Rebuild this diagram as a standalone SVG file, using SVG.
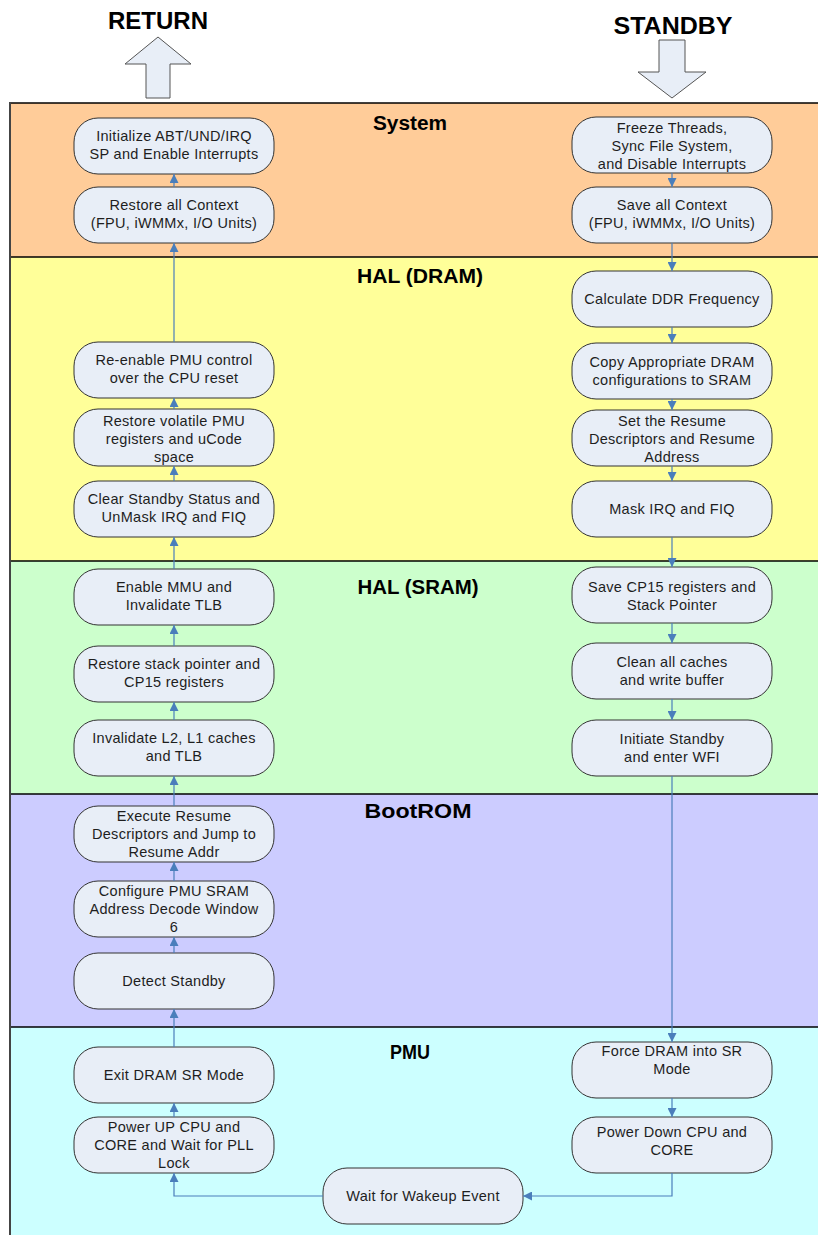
<svg xmlns="http://www.w3.org/2000/svg" width="818" height="1235" viewBox="0 0 818 1235">
  <defs>
    <marker id="arr" viewBox="0 0 10 10" refX="10" refY="5" markerWidth="9" markerHeight="9" markerUnits="userSpaceOnUse" orient="auto">
      <path d="M0,0 L10,5 L0,10 z" fill="#4A7EBB"/>
    </marker>
    <style>
      .node rect { fill: #E8EEF7; stroke: #333333; stroke-width: 1; }
      .node text { font-family: "Liberation Sans", Arial, sans-serif; font-size: 14.5px; letter-spacing: 0.3px; fill: #1e1e1e; text-anchor: middle; }
      .lane-title { font-family: "Liberation Sans", Arial, sans-serif; font-size: 20px; font-weight: bold; fill: #000; text-anchor: middle; }
      .big-label { font-family: "Liberation Sans", Arial, sans-serif; font-size: 24px; font-weight: bold; fill: #000; text-anchor: middle; }
      .conn { fill: none; stroke: #4A7EBB; stroke-width: 1.2; marker-end: url(#arr); }
      .sep { stroke: #000; stroke-width: 1.5; }
      .bigarrow { fill: #E8EEF7; stroke: #555; stroke-width: 1; }
    </style>
  </defs>

  <rect width="818" height="1235" fill="#ffffff"/>

  <!-- swimlanes -->
  <g id="lanes">
    <rect x="10" y="103" width="810" height="154" fill="#FFCC99"/>
    <rect x="10" y="257" width="810" height="304" fill="#FFFF99"/>
    <rect x="10" y="561" width="810" height="233" fill="#CCFFCC"/>
    <rect x="10" y="794" width="810" height="233" fill="#CCCCFF"/>
    <rect x="10" y="1027" width="810" height="210" fill="#CCFFFF"/>
    <line class="sep" x1="10" y1="103" x2="818" y2="103"/>
    <line class="sep" x1="10" y1="257" x2="818" y2="257"/>
    <line class="sep" x1="10" y1="561" x2="818" y2="561"/>
    <line class="sep" x1="10" y1="794" x2="818" y2="794"/>
    <line class="sep" x1="10" y1="1027" x2="818" y2="1027"/>
    <line x1="10" y1="102" x2="10" y2="1235" stroke="#444" stroke-width="2"/>
    <text class="lane-title" x="410" y="130" textLength="74" lengthAdjust="spacingAndGlyphs">System</text>
    <text class="lane-title" x="420" y="283" textLength="126" lengthAdjust="spacingAndGlyphs">HAL (DRAM)</text>
    <text class="lane-title" x="418" y="594" textLength="121" lengthAdjust="spacingAndGlyphs">HAL (SRAM)</text>
    <text class="lane-title" x="418" y="818" textLength="107" lengthAdjust="spacingAndGlyphs">BootROM</text>
    <text class="lane-title" x="410" y="1059" textLength="40" lengthAdjust="spacingAndGlyphs">PMU</text>
  </g>

  <!-- entry / exit arrows -->
  <g id="return">
    <text class="big-label" x="158" y="29" textLength="100" lengthAdjust="spacingAndGlyphs">RETURN</text>
    <path class="bigarrow" d="M146,98 V64 H125 L158,37 L191,64 H170 V98 z"/>
  </g>
  <g id="standby">
    <text class="big-label" x="673" y="34" textLength="119" lengthAdjust="spacingAndGlyphs">STANDBY</text>
    <path class="bigarrow" d="M659,40 H685 V72 H706 L672,98 L638,72 H659 z"/>
  </g>

  <!-- left column (resume path) -->
  <g id="n-init-abt" class="node"><rect x="74" y="118" width="200" height="56" rx="24"/>
    <text x="174" y="141">Initialize ABT/UND/IRQ</text><text x="174" y="159">SP and Enable Interrupts</text></g>
  <g id="n-restore-ctx" class="node"><rect x="74" y="187" width="200" height="56" rx="24"/>
    <text x="174" y="210">Restore all Context</text><text x="174" y="228">(FPU, iWMMx, I/O Units)</text></g>
  <g id="n-reenable-pmu" class="node"><rect x="74" y="342" width="200" height="56" rx="24"/>
    <text x="174" y="365">Re-enable PMU control</text><text x="174" y="383">over the CPU reset</text></g>
  <g id="n-restore-pmu" class="node"><rect x="74" y="409" width="200" height="57" rx="24"/>
    <text x="174" y="426">Restore volatile PMU</text><text x="174" y="444">registers and uCode</text><text x="174" y="462">space</text></g>
  <g id="n-clear-standby" class="node"><rect x="74" y="481" width="200" height="56" rx="24"/>
    <text x="174" y="504">Clear Standby Status and</text><text x="174" y="522">UnMask IRQ and FIQ</text></g>
  <g id="n-enable-mmu" class="node"><rect x="74" y="569" width="200" height="56" rx="24"/>
    <text x="174" y="592">Enable MMU and</text><text x="174" y="610">Invalidate TLB</text></g>
  <g id="n-restore-sp" class="node"><rect x="74" y="646" width="200" height="56" rx="24"/>
    <text x="174" y="669">Restore stack pointer and</text><text x="174" y="687">CP15 registers</text></g>
  <g id="n-invalidate" class="node"><rect x="74" y="720" width="200" height="56" rx="24"/>
    <text x="174" y="743">Invalidate L2, L1 caches</text><text x="174" y="761">and TLB</text></g>
  <g id="n-exec-resume" class="node"><rect x="74" y="806" width="200" height="56" rx="24"/>
    <text x="174" y="821">Execute Resume</text><text x="174" y="839">Descriptors and Jump to</text><text x="174" y="857">Resume Addr</text></g>
  <g id="n-config-pmu" class="node"><rect x="74" y="881" width="200" height="56" rx="24"/>
    <text x="174" y="896">Configure PMU SRAM</text><text x="174" y="914">Address Decode Window</text><text x="174" y="932">6</text></g>
  <g id="n-detect" class="node"><rect x="74" y="953" width="200" height="56" rx="24"/>
    <text x="174" y="986">Detect Standby</text></g>
  <g id="n-exit-sr" class="node"><rect x="74" y="1047" width="200" height="56" rx="24"/>
    <text x="174" y="1080">Exit DRAM SR Mode</text></g>
  <g id="n-power-up" class="node"><rect x="74" y="1117" width="200" height="56" rx="24"/>
    <text x="174" y="1132">Power UP CPU and</text><text x="174" y="1150">CORE and Wait for PLL</text><text x="174" y="1168">Lock</text></g>

  <!-- right column (standby path) -->
  <g id="n-freeze" class="node"><rect x="572" y="117" width="200" height="56" rx="24"/>
    <text x="672" y="133">Freeze Threads,</text><text x="672" y="151">Sync File System,</text><text x="672" y="169">and Disable Interrupts</text></g>
  <g id="n-save-ctx" class="node"><rect x="572" y="187" width="200" height="56" rx="24"/>
    <text x="672" y="210">Save all Context</text><text x="672" y="228">(FPU, iWMMx, I/O Units)</text></g>
  <g id="n-ddr-freq" class="node"><rect x="572" y="271" width="200" height="56" rx="24"/>
    <text x="672" y="304">Calculate DDR Frequency</text></g>
  <g id="n-copy-dram" class="node"><rect x="572" y="343" width="200" height="56" rx="24"/>
    <text x="672" y="367">Copy Appropriate DRAM</text><text x="672" y="385">configurations to SRAM</text></g>
  <g id="n-set-resume" class="node"><rect x="572" y="410" width="200" height="56" rx="24"/>
    <text x="672" y="426">Set the Resume</text><text x="672" y="444">Descriptors and Resume</text><text x="672" y="462">Address</text></g>
  <g id="n-mask-irq" class="node"><rect x="572" y="481" width="200" height="56" rx="24"/>
    <text x="672" y="514">Mask IRQ and FIQ</text></g>
  <g id="n-save-cp15" class="node"><rect x="572" y="567" width="200" height="56" rx="24"/>
    <text x="672" y="592">Save CP15 registers and</text><text x="672" y="610">Stack Pointer</text></g>
  <g id="n-clean-caches" class="node"><rect x="572" y="643" width="200" height="56" rx="24"/>
    <text x="672" y="667">Clean all caches</text><text x="672" y="685">and write buffer</text></g>
  <g id="n-initiate" class="node"><rect x="572" y="720" width="200" height="56" rx="24"/>
    <text x="672" y="744">Initiate Standby</text><text x="672" y="762">and enter WFI</text></g>
  <g id="n-force-sr" class="node"><rect x="572" y="1042" width="200" height="56" rx="24"/>
    <text x="672" y="1056">Force DRAM into SR</text><text x="672" y="1074">Mode</text></g>
  <g id="n-power-down" class="node"><rect x="572" y="1117" width="200" height="56" rx="24"/>
    <text x="672" y="1137">Power Down CPU and</text><text x="672" y="1155">CORE</text></g>

  <!-- wake-up wait -->
  <g id="n-wait" class="node"><rect x="323" y="1168" width="200" height="56" rx="24"/>
    <text x="423" y="1201">Wait for Wakeup Event</text></g>

  <!-- connectors -->
  <g id="connectors">
    <path class="conn" d="M174,187 V174"/>
    <path class="conn" d="M174,342 V243"/>
    <path class="conn" d="M174,409 V398"/>
    <path class="conn" d="M174,481 V466"/>
    <path class="conn" d="M174,569 V537"/>
    <path class="conn" d="M174,646 V625"/>
    <path class="conn" d="M174,720 V702"/>
    <path class="conn" d="M174,806 V776"/>
    <path class="conn" d="M174,881 V862"/>
    <path class="conn" d="M174,953 V937"/>
    <path class="conn" d="M174,1047 V1009"/>
    <path class="conn" d="M174,1117 V1103"/>
    <path class="conn" d="M323,1196 H174 V1173"/>

    <path class="conn" d="M672,173 V187"/>
    <path class="conn" d="M672,243 V271"/>
    <path class="conn" d="M672,327 V343"/>
    <path class="conn" d="M672,399 V410"/>
    <path class="conn" d="M672,466 V481"/>
    <path class="conn" d="M672,537 V567"/>
    <path class="conn" d="M672,623 V643"/>
    <path class="conn" d="M672,699 V720"/>
    <path class="conn" d="M672,776 V1042"/>
    <path class="conn" d="M672,1098 V1117"/>
    <path class="conn" d="M672,1173 V1196 H523"/>
  </g>
</svg>
